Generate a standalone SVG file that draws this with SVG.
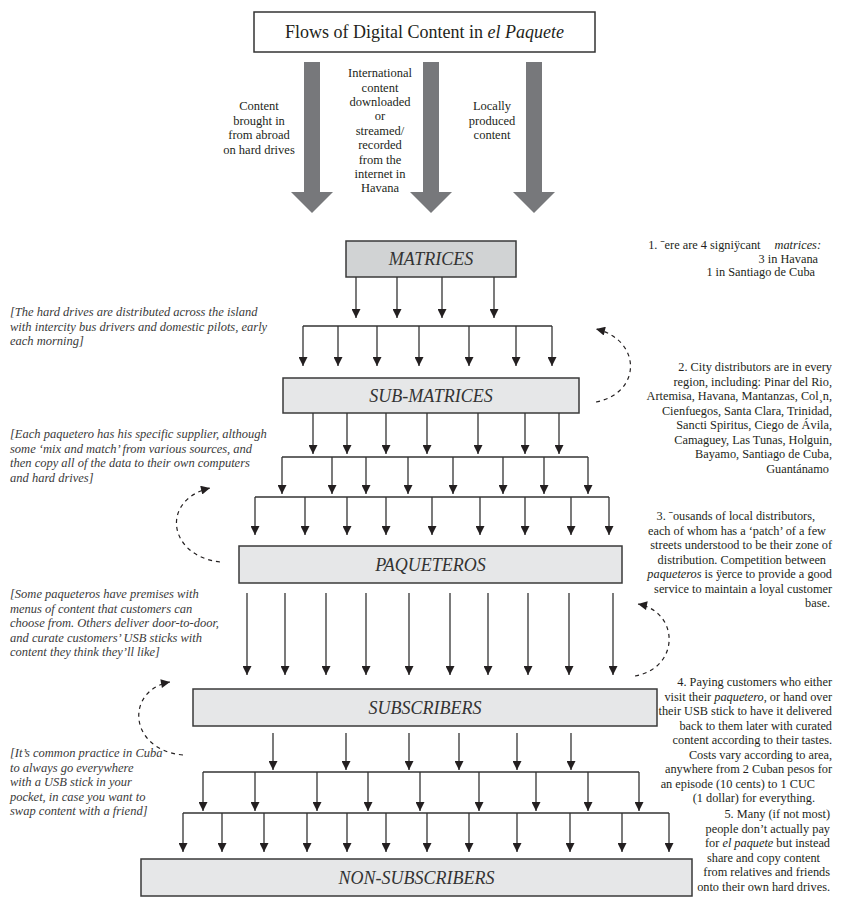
<svg xmlns="http://www.w3.org/2000/svg" width="845" height="916" viewBox="0 0 845 916">
<style>
  text { font-family: "Liberation Serif", "DejaVu Serif", serif; fill: #231f20; }
  .title { font-size: 18px; }
  .lbl { font-size: 12.5px; text-anchor: middle; }
  .box { fill: #e6e7e8; stroke: #3a3a3a; stroke-width: 1.5; }
  .boxd { fill: #d1d3d4; stroke: #3a3a3a; stroke-width: 1.5; }
  .bname { font-size: 18px; font-style: italic; text-anchor: middle; fill: #333; }
  .note { font-size: 12.5px; font-style: italic; fill: #3a3a3a; }
  .rt { font-size: 12.3px; text-anchor: end; }
  .big { fill: #77787b; }
  .c { stroke: #333; stroke-width: 1.3; fill: none; }
  .a { stroke: #333; stroke-width: 1.3; fill: none; marker-end: url(#ah); }
  .d { stroke: #231f20; stroke-width: 1.2; fill: none; stroke-dasharray: 4 4; marker-end: url(#dh); }
</style>
<defs>
  <marker id="ah" viewBox="0 0 10 10" refX="10" refY="5" markerWidth="9" markerHeight="9" markerUnits="userSpaceOnUse" orient="auto">
    <path d="M0,0 L10,5 L0,10 z" fill="#231f20"/>
  </marker>
  <marker id="dh" viewBox="0 0 10 10" refX="10" refY="5" markerWidth="10" markerHeight="9" markerUnits="userSpaceOnUse" orient="auto">
    <path d="M0,0 L10,5 L0,10 z" fill="#231f20"/>
  </marker>
</defs>
<rect width="845" height="916" fill="#ffffff"/>

<g id="title">
  <rect x="254" y="12" width="341" height="40" fill="#ffffff" stroke="#333" stroke-width="1.5"/>
  <text class="title" x="424.5" y="38" text-anchor="middle">Flows of Digital Content in <tspan font-style="italic">el Paquete</tspan></text>
</g>

<g id="source-abroad">
  <polygon class="big" points="304,62 320,62 320,192 333,192 312,213 291,192 304,192"/>
  <text class="lbl" x="259" y="110">Content</text>
  <text class="lbl" x="259" y="124.5">brought in</text>
  <text class="lbl" x="259" y="139">from abroad</text>
  <text class="lbl" x="259" y="153.5">on hard drives</text>
</g>
<g id="source-international">
  <polygon class="big" points="423,62 439,62 439,192 452,192 431,213 410,192 423,192"/>
  <text class="lbl" x="380" y="77">International</text>
  <text class="lbl" x="380" y="91.5">content</text>
  <text class="lbl" x="380" y="106">downloaded</text>
  <text class="lbl" x="380" y="120">or</text>
  <text class="lbl" x="380" y="134.5">streamed/</text>
  <text class="lbl" x="380" y="149">recorded</text>
  <text class="lbl" x="380" y="163.5">from the</text>
  <text class="lbl" x="380" y="178">internet in</text>
  <text class="lbl" x="380" y="192">Havana</text>
</g>
<g id="source-local">
  <polygon class="big" points="526,62 542,62 542,192 555,192 534,213 513,192 526,192"/>
  <text class="lbl" x="492" y="110">Locally</text>
  <text class="lbl" x="492" y="124.5">produced</text>
  <text class="lbl" x="492" y="139">content</text>
</g>

<g id="matrices">
  <rect class="boxd" x="346" y="241" width="170" height="36"/>
  <text class="bname" x="431" y="265">MATRICES</text>
</g>
<g id="sub-matrices">
  <rect class="box" x="283" y="378" width="296" height="35"/>
  <text class="bname" x="431" y="402">SUB-MATRICES</text>
</g>
<g id="paqueteros">
  <rect class="box" x="239" y="546" width="383" height="37"/>
  <text class="bname" x="430.5" y="571">PAQUETEROS</text>
</g>
<g id="subscribers">
  <rect class="box" x="193" y="689" width="464" height="37"/>
  <text class="bname" x="425" y="714">SUBSCRIBERS</text>
</g>
<g id="non-subscribers">
  <rect class="box" x="141" y="859" width="551" height="37"/>
  <text class="bname" x="416.5" y="884">NON-SUBSCRIBERS</text>
</g>

<g id="connectors">
  <line class="a" x1="356" y1="277" x2="356" y2="318"/>
  <line class="a" x1="397" y1="277" x2="397" y2="318"/>
  <line class="a" x1="442" y1="277" x2="442" y2="318"/>
  <line class="a" x1="494" y1="277" x2="494" y2="318"/>
  <line class="c" x1="303" y1="326" x2="552" y2="326"/>
  <line class="a" x1="303" y1="326" x2="303" y2="366"/>
  <line class="a" x1="338" y1="326" x2="338" y2="366"/>
  <line class="a" x1="377" y1="326" x2="377" y2="366"/>
  <line class="a" x1="419" y1="326" x2="419" y2="366"/>
  <line class="a" x1="469" y1="326" x2="469" y2="366"/>
  <line class="a" x1="516" y1="326" x2="516" y2="366"/>
  <line class="a" x1="552" y1="326" x2="552" y2="366"/>

  <line class="a" x1="313" y1="413" x2="313" y2="454"/>
  <line class="a" x1="347" y1="413" x2="347" y2="454"/>
  <line class="a" x1="386" y1="413" x2="386" y2="454"/>
  <line class="a" x1="427" y1="413" x2="427" y2="454"/>
  <line class="a" x1="478" y1="413" x2="478" y2="454"/>
  <line class="a" x1="525" y1="413" x2="525" y2="454"/>
  <line class="a" x1="559" y1="413" x2="559" y2="454"/>
  <line class="c" x1="282" y1="457" x2="588" y2="457"/>
  <line class="a" x1="282" y1="457" x2="282" y2="494"/>
  <line class="a" x1="332" y1="457" x2="332" y2="494"/>
  <line class="a" x1="366" y1="457" x2="366" y2="494"/>
  <line class="a" x1="408" y1="457" x2="408" y2="494"/>
  <line class="a" x1="453" y1="457" x2="453" y2="494"/>
  <line class="a" x1="503" y1="457" x2="503" y2="494"/>
  <line class="a" x1="544" y1="457" x2="544" y2="494"/>
  <line class="a" x1="588" y1="457" x2="588" y2="494"/>
  <line class="c" x1="255" y1="497" x2="609" y2="497"/>
  <line class="a" x1="255" y1="497" x2="255" y2="535"/>
  <line class="a" x1="305" y1="497" x2="305" y2="535"/>
  <line class="a" x1="347" y1="497" x2="347" y2="535"/>
  <line class="a" x1="386" y1="497" x2="386" y2="535"/>
  <line class="a" x1="432" y1="497" x2="432" y2="535"/>
  <line class="a" x1="480" y1="497" x2="480" y2="535"/>
  <line class="a" x1="525" y1="497" x2="525" y2="535"/>
  <line class="a" x1="571" y1="497" x2="571" y2="535"/>
  <line class="a" x1="609" y1="497" x2="609" y2="535"/>

  <line class="a" x1="247" y1="593" x2="247" y2="675"/>
  <line class="a" x1="285" y1="593" x2="285" y2="675"/>
  <line class="a" x1="326" y1="593" x2="326" y2="675"/>
  <line class="a" x1="366" y1="593" x2="366" y2="675"/>
  <line class="a" x1="409" y1="593" x2="409" y2="675"/>
  <line class="a" x1="450" y1="593" x2="450" y2="675"/>
  <line class="a" x1="488" y1="593" x2="488" y2="675"/>
  <line class="a" x1="528" y1="593" x2="528" y2="675"/>
  <line class="a" x1="569" y1="593" x2="569" y2="675"/>
  <line class="a" x1="613" y1="593" x2="613" y2="675"/>

  <line class="a" x1="273" y1="733" x2="273" y2="770"/>
  <line class="a" x1="346" y1="733" x2="346" y2="770"/>
  <line class="a" x1="409" y1="733" x2="409" y2="770"/>
  <line class="a" x1="459" y1="733" x2="459" y2="770"/>
  <line class="a" x1="517" y1="733" x2="517" y2="770"/>
  <line class="a" x1="571" y1="733" x2="571" y2="770"/>
  <line class="c" x1="203" y1="772" x2="639" y2="772"/>
  <line class="a" x1="203" y1="772" x2="203" y2="811"/>
  <line class="a" x1="255" y1="772" x2="255" y2="811"/>
  <line class="a" x1="317" y1="772" x2="317" y2="811"/>
  <line class="a" x1="368" y1="772" x2="368" y2="811"/>
  <line class="a" x1="420" y1="772" x2="420" y2="811"/>
  <line class="a" x1="479" y1="772" x2="479" y2="811"/>
  <line class="a" x1="536" y1="772" x2="536" y2="811"/>
  <line class="a" x1="588" y1="772" x2="588" y2="811"/>
  <line class="a" x1="639" y1="772" x2="639" y2="811"/>
  <line class="c" x1="183" y1="813" x2="669" y2="813"/>
  <line class="a" x1="183" y1="813" x2="183" y2="852"/>
  <line class="a" x1="222" y1="813" x2="222" y2="852"/>
  <line class="a" x1="264" y1="813" x2="264" y2="852"/>
  <line class="a" x1="307" y1="813" x2="307" y2="852"/>
  <line class="a" x1="347" y1="813" x2="347" y2="852"/>
  <line class="a" x1="386" y1="813" x2="386" y2="852"/>
  <line class="a" x1="427" y1="813" x2="427" y2="852"/>
  <line class="a" x1="469" y1="813" x2="469" y2="852"/>
  <line class="a" x1="517" y1="813" x2="517" y2="852"/>
  <line class="a" x1="570" y1="813" x2="570" y2="852"/>
  <line class="a" x1="622" y1="813" x2="622" y2="852"/>
  <line class="a" x1="669" y1="813" x2="669" y2="852"/>

  <path class="d" d="M596,402 C642,393 642,340 596,329"/>
  <path class="d" d="M220,562 C168,556 160,500 210,488"/>
  <path class="d" d="M635,676 C680,668 680,612 638,604"/>
  <path class="d" d="M183,755 C128,750 125,690 170,682"/>
</g>

<g id="note-1">
  <text class="rt" x="821" y="249"><tspan>1. ˉere are 4 signiÿcant</tspan><tspan dx="14" font-style="italic">matrices:</tspan></text>
  <text class="rt" x="818" y="262.5">3 in Havana</text>
  <text class="rt" x="815" y="276">1 in Santiago de Cuba</text>
</g>
<g id="note-2">
  <text class="rt" x="832" y="371">2. City distributors are in every</text>
  <text class="rt" x="832" y="385.5">region, including: Pinar del Rio,</text>
  <text class="rt" x="832" y="400">Artemisa, Havana, Mantanzas, Col¸n,</text>
  <text class="rt" x="832" y="414.5">Cienfuegos, Santa Clara, Trinidad,</text>
  <text class="rt" x="832" y="429">Sancti Spiritus, Ciego de Ávila,</text>
  <text class="rt" x="832" y="443.5">Camaguey, Las Tunas, Holguin,</text>
  <text class="rt" x="832" y="458">Bayamo, Santiago de Cuba,</text>
  <text class="rt" x="829" y="472.5">Guantánamo</text>
</g>
<g id="note-3">
  <text class="rt" x="815" y="520">3. ˉousands of local distributors,</text>
  <text class="rt" x="826" y="534.5">each of whom has a ‘patch’ of a few</text>
  <text class="rt" x="832" y="549">streets understood to be their zone of</text>
  <text class="rt" x="826" y="563.5">distribution. Competition between</text>
  <text class="rt" x="832" y="578"><tspan font-style="italic">paqueteros</tspan> is ÿerce to provide a good</text>
  <text class="rt" x="832" y="592.5">service to maintain a loyal customer</text>
  <text class="rt" x="830" y="607">base.</text>
</g>
<g id="note-4">
  <text class="rt" x="832" y="686">4. Paying customers who either</text>
  <text class="rt" x="832" y="700.5">visit their <tspan font-style="italic">paquetero</tspan>, or hand over</text>
  <text class="rt" x="832" y="715">their USB stick to have it delivered</text>
  <text class="rt" x="832" y="729.5">back to them later with curated</text>
  <text class="rt" x="832" y="744">content according to their tastes.</text>
  <text class="rt" x="832" y="758.5">Costs vary according to area,</text>
  <text class="rt" x="832" y="773">anywhere from 2 Cuban pesos for</text>
  <text class="rt" x="815" y="787.5">an episode (10 cents) to 1 CUC</text>
  <text class="rt" x="815" y="802">(1 dollar) for everything.</text>
</g>
<g id="note-5">
  <text class="rt" x="830" y="818">5. Many (if not most)</text>
  <text class="rt" x="830" y="832.5">people don’t actually pay</text>
  <text class="rt" x="830" y="847">for <tspan font-style="italic">el paquete</tspan> but instead</text>
  <text class="rt" x="820" y="861.5">share and copy content</text>
  <text class="rt" x="830" y="876">from relatives and friends</text>
  <text class="rt" x="830" y="890.5">onto their own hard drives.</text>
</g>

<g id="note-left-1">
  <text class="note" x="10" y="316">[The hard drives are distributed across the island</text>
  <text class="note" x="10" y="330.5">with intercity bus drivers and domestic pilots, early</text>
  <text class="note" x="10" y="345">each morning]</text>
</g>
<g id="note-left-2">
  <text class="note" x="10" y="438">[Each paquetero has his specific supplier, although</text>
  <text class="note" x="10" y="452.5">some ‘mix and match’ from various sources, and</text>
  <text class="note" x="10" y="467">then copy all of the data to their own computers</text>
  <text class="note" x="10" y="481.5">and hard drives]</text>
</g>
<g id="note-left-3">
  <text class="note" x="10" y="598">[Some paqueteros have premises with</text>
  <text class="note" x="10" y="612.5">menus of content that customers can</text>
  <text class="note" x="10" y="627">choose from. Others deliver door-to-door,</text>
  <text class="note" x="10" y="641.5">and curate customers’ USB sticks with</text>
  <text class="note" x="10" y="656">content they think they’ll like]</text>
</g>
<g id="note-left-4">
  <text class="note" x="10" y="757">[It’s common practice in Cuba</text>
  <text class="note" x="10" y="771.5">to always go everywhere</text>
  <text class="note" x="10" y="786">with a USB stick in your</text>
  <text class="note" x="10" y="800.5">pocket, in case you want to</text>
  <text class="note" x="10" y="815">swap content with a friend]</text>
</g>
</svg>
